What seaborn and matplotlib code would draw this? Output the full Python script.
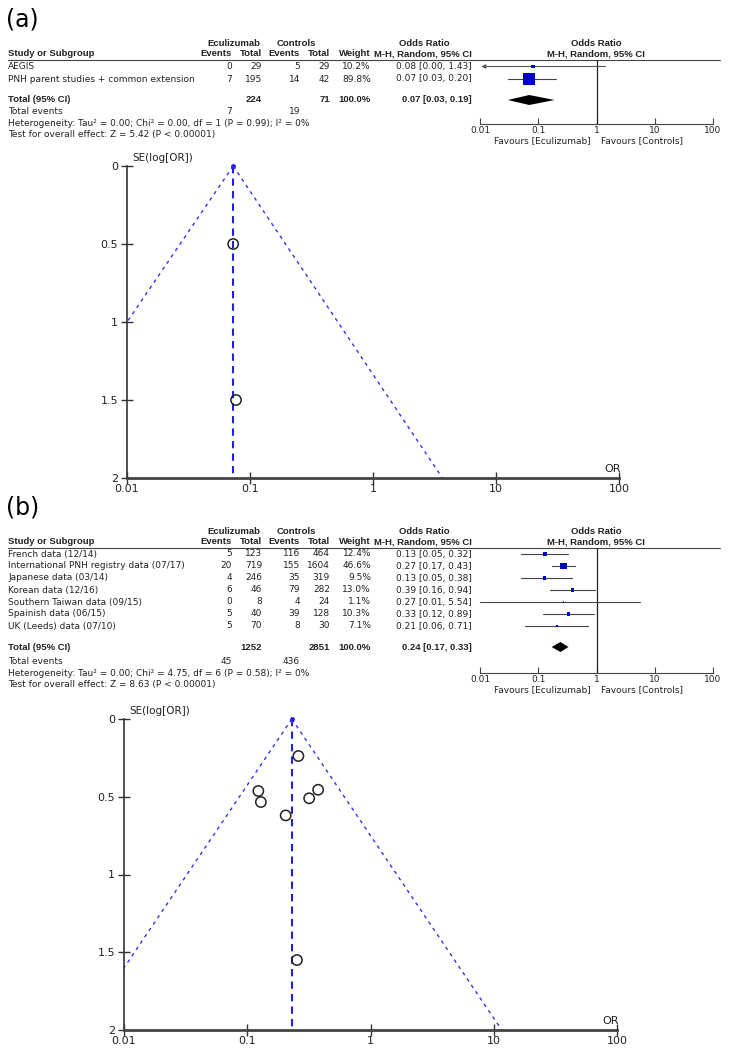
import numpy as np
import pandas as pd
import matplotlib
matplotlib.use("Agg")
import matplotlib.pyplot as plt
import seaborn as sns

sns.set_theme(style="white")
plt.rcParams['font.family'] = ['DejaVu Sans']

# ---------------- DATA ----------------
# Panel (a)
a_studies = ["AEGIS", "PNH parent studies + common extension"]
a_ecu_events = [0, 7]
a_ecu_total = [29, 195]
a_ctl_events = [5, 14]
a_ctl_total = [29, 42]
a_weight = [10.2, 89.8]
a_or = [0.08, 0.07]
a_lo = [0.00, 0.03]
a_hi = [1.43, 0.20]
a_pooled = [0.07, 0.03, 0.19]
a_totals = [224, 71]
a_events = [7, 19]
a_het = "Heterogeneity: Tau\u00b2 = 0.00; Chi\u00b2 = 0.00, df = 1 (P = 0.99); I\u00b2 = 0%"
a_test = "Test for overall effect: Z = 5.42 (P < 0.00001)"
a_fun_or = [0.077, 0.073]
a_fun_se = [1.5, 0.5]
a_fun_center = 0.073
a_fun_left = [0.01, 1.0]     # (OR, SE) where left limit meets the axis
a_fun_right = [3.67, 2.0]    # (OR, SE) where right limit meets the axis

# Panel (b)
b_studies = ["French data (12/14)", "International PNH registry data (07/17)",
             "Japanese data (03/14)", "Korean data (12/16)",
             "Southern Taiwan data (09/15)", "Spainish data (06/15)",
             "UK (Leeds) data (07/10)"]
b_ecu_events = [5, 20, 4, 6, 0, 5, 5]
b_ecu_total = [123, 719, 246, 46, 8, 40, 70]
b_ctl_events = [116, 155, 35, 79, 4, 39, 8]
b_ctl_total = [464, 1604, 319, 282, 24, 128, 30]
b_weight = [12.4, 46.6, 9.5, 13.0, 1.1, 10.3, 7.1]
b_or = [0.13, 0.27, 0.13, 0.39, 0.27, 0.33, 0.21]
b_lo = [0.05, 0.17, 0.05, 0.16, 0.01, 0.12, 0.06]
b_hi = [0.32, 0.43, 0.38, 0.94, 5.54, 0.89, 0.71]
b_pooled = [0.24, 0.17, 0.33]
b_totals = [1252, 2851]
b_events = [45, 436]
b_het = "Heterogeneity: Tau\u00b2 = 0.00; Chi\u00b2 = 4.75, df = 6 (P = 0.58); I\u00b2 = 0%"
b_test = "Test for overall effect: Z = 8.63 (P < 0.00001)"
b_fun_or = [0.123, 0.26, 0.129, 0.376, 0.253, 0.318, 0.205]
b_fun_se = [0.463, 0.238, 0.534, 0.455, 1.55, 0.51, 0.62]
b_fun_center = 0.23
b_fun_left = [0.01, 1.60]
b_fun_right = [11.6, 2.0]

or_ticks = [0.01, 0.1, 1, 10, 100]
or_tick_labels = ["0.01", "0.1", "1", "10", "100"]
se_ticks = [0, 0.5, 1, 1.5, 2]
se_tick_labels = ["0", "0.5", "1", "1.5", "2"]

# ---------------- LAYOUT ----------------
W, H = 740, 1060
fig = plt.figure(figsize=(W / 100, H / 100), dpi=100)
fig.patch.set_facecolor("white")

ov = fig.add_axes([0, 0, 1, 1])
ov.set_xlim(0, W)
ov.set_ylim(H, 0)
ov.axis("off")


def rect(l, t, r, b):
    return [l / W, 1 - b / H, (r - l) / W, (b - t) / H]


FS = 6.5
FSB = 6.8
TC = "#222222"
BLUE = "#0000cc"
COLS = dict(ev1=232, tot1=262, ev2=300, tot2=330, wt=371, orci=472)


def T(x, y, s, bold=False, ha="left", size=None):
    if bold:
        ov.text(x, y, s, fontsize=size or FSB, fontweight="bold",
                family=["Liberation Sans", "DejaVu Sans"], ha=ha, va="center", color=TC)
    else:
        ov.text(x, y, s, fontsize=size or FS, ha=ha, va="center", color=TC)


def table(lab_y, hdr1_y, hdr2_y, line_y, row0, rowh, total_y, ev_y, het_y, test_y,
          axis_y, studies, e1, t1, e2, t2, wt, orv, lo, hi, pooled, totals, events,
          het, test, label, fsizes):
    ov.text(6, lab_y, label, fontsize=17, ha="left", va="center", color="black")
    # headers
    T(234, hdr1_y, "Eculizumab", True, "center")
    T(296, hdr1_y, "Controls", True, "center")
    T(424, hdr1_y, "Odds Ratio", True, "center")
    T(596, hdr1_y, "Odds Ratio", True, "center")
    T(8, hdr2_y, "Study or Subgroup", True)
    for key, txt in [("ev1", "Events"), ("tot1", "Total"), ("ev2", "Events"),
                     ("tot2", "Total"), ("wt", "Weight"), ("orci", "M-H, Random, 95% CI")]:
        T(COLS[key], hdr2_y, txt, True, "right")
    T(596, hdr2_y, "M-H, Random, 95% CI", True, "center")
    ov.plot([8, 720], [line_y, line_y], color="#444444", lw=0.8)

    ys = [row0 + i * rowh for i in range(len(studies))]
    for i, y in enumerate(ys):
        T(8, y, studies[i])
        T(COLS["ev1"], y, str(e1[i]), ha="right")
        T(COLS["tot1"], y, str(t1[i]), ha="right")
        T(COLS["ev2"], y, str(e2[i]), ha="right")
        T(COLS["tot2"], y, str(t2[i]), ha="right")
        T(COLS["wt"], y, f"{wt[i]:.1f}%", ha="right")
        T(COLS["orci"], y, f"{orv[i]:.2f} [{lo[i]:.2f}, {hi[i]:.2f}]", ha="right")
    T(8, total_y, "Total (95% CI)", True)
    T(COLS["tot1"], total_y, str(totals[0]), True, "right")
    T(COLS["tot2"], total_y, str(totals[1]), True, "right")
    T(COLS["wt"], total_y, "100.0%", True, "right")
    T(COLS["orci"], total_y, f"{pooled[0]:.2f} [{pooled[1]:.2f}, {pooled[2]:.2f}]", True, "right")
    T(8, ev_y, "Total events")
    T(COLS["ev1"], ev_y, str(events[0]), ha="right")
    T(COLS["ev2"], ev_y, str(events[1]), ha="right")
    T(8, het_y, het)
    T(8, test_y, test)

    # forest plot
    fx = fig.add_axes(rect(480, line_y, 713, axis_y))
    fx.set_xscale("log")
    fx.set_xlim(0.01, 100)
    fx.set_ylim(axis_y, line_y)
    fx.patch.set_alpha(0)
    for s in ["top", "right", "left"]:
        fx.spines[s].set_visible(False)
    fx.spines["bottom"].set_color("#444444")
    fx.spines["bottom"].set_linewidth(0.8)
    fx.axvline(1, color="#222222", lw=0.9)
    df = pd.DataFrame({"or": orv, "y": ys, "w": wt, "lo": lo, "hi": hi})
    for i, r in df.iterrows():
        if r["lo"] < 0.01:
            fx.annotate("", xy=(0.0105, r["y"]), xytext=(r["hi"], r["y"]),
                        arrowprops=dict(arrowstyle="-|>", color="#555555", lw=0.8,
                                        mutation_scale=6, shrinkA=0, shrinkB=0))
        else:
            fx.plot([r["lo"], r["hi"]], [r["y"], r["y"]], color="#444444", lw=0.8)
    sns.scatterplot(data=df, x="or", y="y", size="w", sizes=fsizes, size_norm=(0, 100),
                    marker="s", color=BLUE, edgecolor="none", legend=False, ax=fx, zorder=3)
    hh = 5
    fx.fill([pooled[1], pooled[0], pooled[2], pooled[0]],
            [total_y, total_y - hh, total_y, total_y + hh], color="black", lw=0)
    fx.set_xticks(or_ticks)
    fx.set_xticklabels(or_tick_labels)
    fx.minorticks_off()
    fx.set_yticks([])
    fx.tick_params(axis="x", direction="in", length=4, width=0.8, color="#444444",
                   labelsize=FS, labelcolor=TC, pad=1.5, bottom=True)
    fx.set_xlabel("")
    fx.set_ylabel("")
    T(591, axis_y + 17, "Favours [Eculizumab]", ha="right")
    T(601, axis_y + 17, "Favours [Controls]")


def funnel(l, t, r, b, f_or, f_se, center, left, right):
    ax = fig.add_axes(rect(l, t, r, b))
    ax.set_xscale("log")
    ax.set_xlim(0.01, 100)
    ax.set_ylim(2, 0)
    ax.patch.set_alpha(0)
    for s in ["top", "right"]:
        ax.spines[s].set_visible(False)
    ax.spines["left"].set_color("#333333")
    ax.spines["left"].set_linewidth(1.2)
    ax.spines["bottom"].set_color("#444444")
    ax.spines["bottom"].set_linewidth(2.0)
    ax.plot([center, center], [0, 2], color="#2222dd", lw=1.5, ls=(0, (3.5, 2.5)), clip_on=False)
    ax.plot([center, left[0]], [0, left[1]], color="#3333ee", lw=1.0, ls=(0, (2.5, 3)), clip_on=False)
    ax.plot([center, right[0]], [0, right[1]], color="#3333ee", lw=1.0, ls=(0, (2.5, 3)), clip_on=False)
    ax.plot([center], [0], marker="o", ms=2.5, color="#2222dd", clip_on=False)
    df = pd.DataFrame({"or": f_or, "se": f_se})
    sns.scatterplot(data=df, x="or", y="se", marker="o", s=55, facecolors="none",
                    edgecolor="#222222", linewidth=1.1, ax=ax, zorder=4, clip_on=False)
    ax.set_xticks(or_ticks)
    ax.set_xticklabels(or_tick_labels)
    ax.set_yticks(se_ticks)
    ax.set_yticklabels(se_tick_labels)
    ax.minorticks_off()
    ax.tick_params(axis="both", direction="inout", length=8, width=1.0, color="#333333",
                   labelsize=8, labelcolor=TC, left=True, bottom=True)
    ax.tick_params(axis="x", pad=0)
    ax.tick_params(axis="y", pad=2.5)
    ax.set_xlabel("")
    ax.set_ylabel("")
    ov.text(l + 5, t - 8, "SE(log[OR])", fontsize=7.5, ha="left", va="center", color=TC)
    ov.text(r - 6, b - 9, "OR", fontsize=8, ha="center", va="center", color=TC)


table(lab_y=20, hdr1_y=43, hdr2_y=54, line_y=60, row0=66.5, rowh=12.5, total_y=100,
      ev_y=112, het_y=123, test_y=134.5, axis_y=124,
      studies=a_studies, e1=a_ecu_events, t1=a_ecu_total, e2=a_ctl_events, t2=a_ctl_total,
      wt=a_weight, orv=a_or, lo=a_lo, hi=a_hi, pooled=a_pooled, totals=a_totals,
      events=a_events, het=a_het, test=a_test, label="(a)", fsizes=(0, 79))
funnel(127, 166, 619, 478, a_fun_or, a_fun_se, a_fun_center, a_fun_left, a_fun_right)

table(lab_y=507, hdr1_y=531, hdr2_y=542, line_y=547.5, row0=554, rowh=12, total_y=647,
      ev_y=661, het_y=673, test_y=685, axis_y=673,
      studies=b_studies, e1=b_ecu_events, t1=b_ecu_total, e2=b_ctl_events, t2=b_ctl_total,
      wt=b_weight, orv=b_or, lo=b_lo, hi=b_hi, pooled=b_pooled, totals=b_totals,
      events=b_events, het=b_het, test=b_test, label="(b)", fsizes=(0, 50))
funnel(124, 719, 617, 1030, b_fun_or, b_fun_se, b_fun_center, b_fun_left, b_fun_right)

fig.savefig("out.png", dpi=100, facecolor="white")
